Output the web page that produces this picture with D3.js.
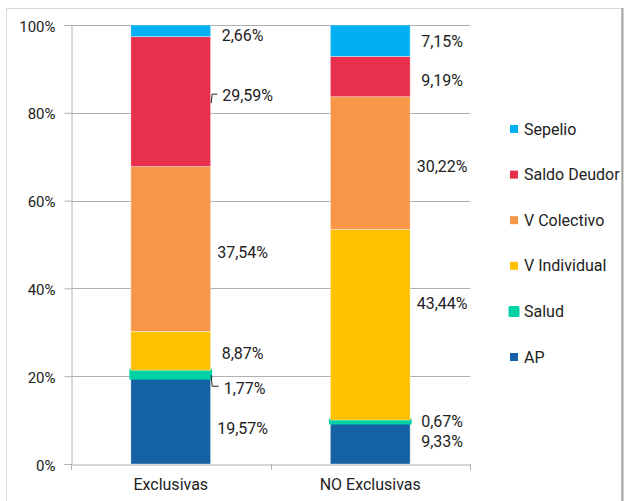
<!DOCTYPE html>
<html>
<head>
<meta charset="utf-8">
<script src="https://cdn.jsdelivr.net/npm/d3@7"></script>
<style>
  body { margin: 0; background: #fff; }
  svg { display: block; font-family: Roboto, "Noto Sans", sans-serif; }
</style>
</head>
<body>
<svg id="chart" width="624" height="501"></svg>
<script>
// data
const categories = ['Exclusivas', 'NO Exclusivas']
const seriesNames = ['AP', 'Salud', 'V Individual', 'V Colectivo', 'Saldo Deudor', 'Sepelio']
const apValues = [19.57, 9.33]
const saludValues = [1.77, 0.67]
const vIndividualValues = [8.87, 43.44]
const vColectivoValues = [37.54, 30.22]
const saldoDeudorValues = [29.59, 9.19]
const sepelioValues = [2.66, 7.15]
const yTicks = [0, 20, 40, 60, 80, 100]

const colors = {
  'AP': '#1461a3',
  'Salud': '#00d2a6',
  'V Individual': '#ffc000',
  'V Colectivo': '#f79646',
  'Saldo Deudor': '#e8304c',
  'Sepelio': '#00b0f0',
}

// label nudges (layout only): [dx, dy, leader]
const labelNudge = {
  'Exclusivas': {
    'AP': [0, 7.5], 'Salud': [2, 14, true], 'V Individual': [0, 3],
    'V Colectivo': [0, 3], 'Saldo Deudor': [5, -6, true], 'Sepelio': [0, 5],
  },
  'NO Exclusivas': {
    'AP': [0, -2], 'Salud': [0, -0.5], 'V Individual': [0, -21],
    'V Colectivo': [0, 3], 'Saldo Deudor': [0, 4], 'Sepelio': [0, 1],
  },
}

const valuesBySeries = {
  'AP': apValues,
  'Salud': saludValues,
  'V Individual': vIndividualValues,
  'V Colectivo': vColectivoValues,
  'Saldo Deudor': saldoDeudorValues,
  'Sepelio': sepelioValues,
}

const table = categories.map((c, i) => {
  const row = { category: c }
  seriesNames.forEach(s => (row[s] = valuesBySeries[s][i]))
  return row
})

const stacked = d3.stack().keys(seriesNames)(table)

const svg = d3.select('#chart')
const textColor = '#222'
const gridColor = '#b0b0b0'

// outer frame
svg.append('rect')
  .attr('x', 6.5).attr('y', 8.5)
  .attr('width', 615).attr('height', 500)
  .attr('fill', '#fff')
  .attr('stroke', '#d9d9d9')
svg.append('line')
  .attr('x1', 622.5).attr('x2', 622.5)
  .attr('y1', 8).attr('y2', 501)
  .attr('stroke', '#a6a6a6').attr('stroke-width', 2)

const plotLeft = 71, plotRight = 470, plotTop = 25, plotBottom = 464

const x = d3.scaleBand()
  .domain(categories)
  .range([plotLeft, plotRight])
  .paddingInner(0).paddingOuter(0)

const y = d3.scaleLinear()
  .domain([0, 100])
  .range([plotBottom, plotTop])

const barW = x.bandwidth() * 0.4
const barX = c => x(c) + (x.bandwidth() - barW) / 2

// gridlines
svg.append('g')
  .selectAll('line')
  .data(yTicks.filter(d => d > 0))
  .join('line')
  .attr('x1', plotLeft).attr('x2', plotRight)
  .attr('y1', d => Math.round(y(d)) + 0.5)
  .attr('y2', d => Math.round(y(d)) + 0.5)
  .attr('stroke', gridColor)

// y axis
const yAxis = svg.append('g')
  .attr('transform', `translate(${plotLeft + 0.5},0)`)
  .call(d3.axisLeft(y).tickValues(yTicks).tickSize(7).tickPadding(9).tickFormat(d => d + '%'))
yAxis.select('.domain').attr('stroke', gridColor)
yAxis.selectAll('.tick line').attr('stroke', gridColor)
yAxis.selectAll('.tick text')
  .attr('fill', textColor)
  .attr('dy', '0.4em')
  .style('font-size', '15px')
  .style('font-family', 'Roboto, sans-serif')

// bars
svg.append('g')
  .selectAll('g')
  .data(stacked)
  .join('g')
  .attr('fill', d => colors[d.key])
  .each(function (series) {
    d3.select(this)
      .selectAll('rect')
      .data(series)
      .join('rect')
      .attr('x', d => barX(d.data.category))
      .attr('width', barW)
      .attr('y', d => y(d[1]))
      .attr('height', d => y(d[0]) - y(d[1]))
      .attr('stroke', series.key === 'Salud' ? colors.Salud : 'rgba(255,255,255,0.5)')
      .attr('stroke-width', series.key === 'Salud' ? 3 : 0.75)
  })

// x axis
const xAxis = svg.append('g')
  .attr('transform', `translate(0,${plotBottom + 0.5})`)
  .call(d3.axisBottom(x).tickSize(0).tickPadding(14))
xAxis.select('.domain').attr('stroke', gridColor)
xAxis.selectAll('.tick text')
  .attr('fill', textColor)
  .style('font-size', '16px')
  .style('font-family', 'Roboto, sans-serif')
svg.append('g')
  .selectAll('line')
  .data([plotLeft, x(categories[1]), plotRight])
  .join('line')
  .attr('x1', d => Math.round(d) + 0.5).attr('x2', d => Math.round(d) + 0.5)
  .attr('y1', plotBottom).attr('y2', plotBottom + 6)
  .attr('stroke', gridColor)

// data labels
const labels = svg.append('g')
stacked.forEach(series => {
  series.forEach(d => {
    const c = d.data.category
    const [dx, dy, leader] = labelNudge[c][series.key]
    const right = barX(c) + barW
    const cy = (y(d[0]) + y(d[1])) / 2
    const lx = right + 32 + dx
    const ly = cy + dy
    const t = labels.append('text')
      .attr('x', lx).attr('y', ly).attr('dy', '0.35em')
      .attr('text-anchor', 'middle')
      .attr('fill', textColor)
      .style('font-size', '16px')
      .text(d3.format('.2f')(d[1] - d[0]).replace('.', ',') + '%')
    if (leader) {
      const w = t.node().getComputedTextLength()
      const hy = ly + (dy > 0 ? -2 : -1.5)
      labels.append('path')
        .attr('d', `M${right + 0.5},${cy + (dy > 0 ? 1 : 1.5)}L${right + 1.5},${hy}L${lx - w / 2 - 5},${hy}`)
        .attr('fill', 'none')
        .attr('stroke', textColor)
        .attr('stroke-width', 1)
    }
  })
})

// legend
const legend = svg.append('g')
  .selectAll('g')
  .data(seriesNames.slice().reverse())
  .join('g')
  .attr('transform', (d, i) => `translate(510,${129 + i * 45.6})`)
legend.append('rect')
  .attr('x', 0).attr('y', -4).attr('width', 8).attr('height', 8)
  .attr('fill', d => colors[d])
  .attr('stroke', d => d === 'Salud' ? colors[d] : 'none')
  .attr('stroke-width', 3)
  .attr('stroke-linejoin', 'round')
legend.append('text')
  .attr('x', 14).attr('dy', '0.35em')
  .attr('fill', textColor)
  .style('font-size', '16px')
  .text(d => d)
</script>
</body>
</html>
